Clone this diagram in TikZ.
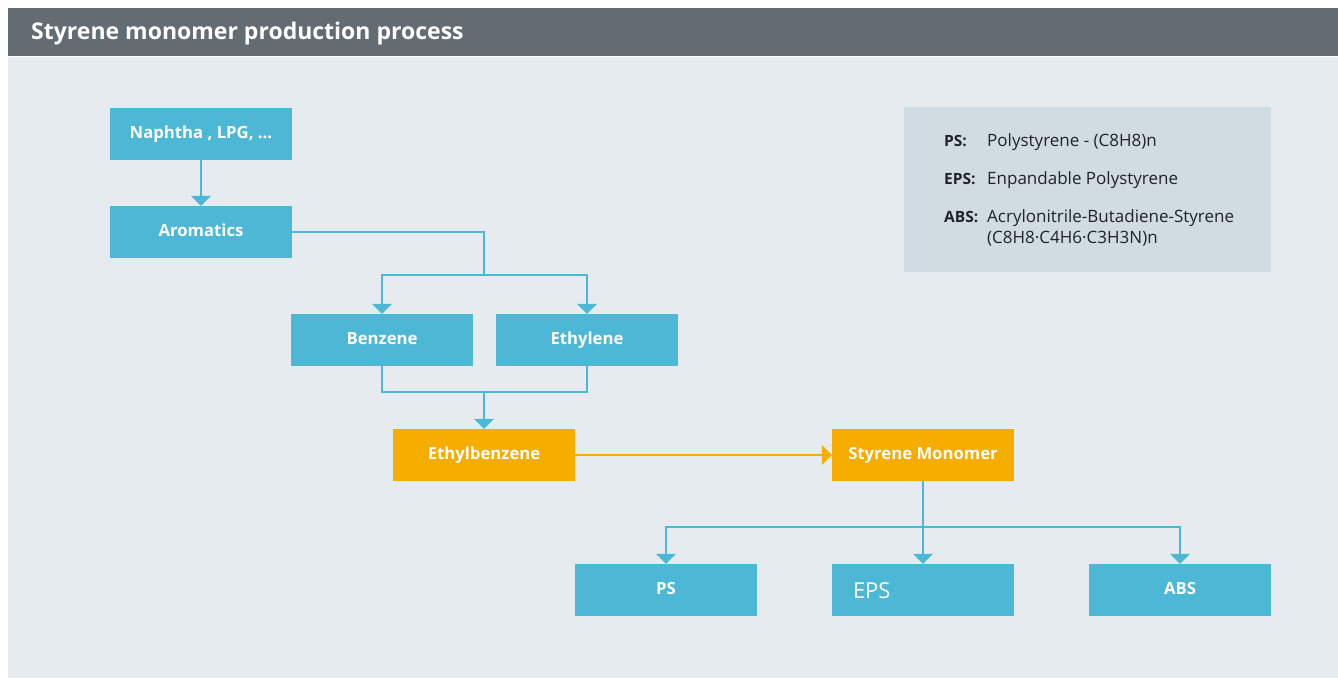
\documentclass[tikz,border=0pt]{standalone}
\usepackage{fontspec}
\setmainfont{Open Sans}
\usetikzlibrary{arrows.meta}
\definecolor{hdr}{HTML}{626C72}
\definecolor{bgc}{HTML}{E6EBEF}
\definecolor{boxblue}{HTML}{4DB8D5}
\definecolor{boxorange}{HTML}{F7AC00}
\definecolor{legc}{HTML}{D0DBE2}
\definecolor{legtext}{HTML}{1E2428}
\tikzset{
  box/.style={fill=boxblue, draw=none, minimum width=182pt, minimum height=52pt, inner sep=0pt, text height=12pt, text depth=4pt, text=white, font=\fontsize{16.7}{20}\selectfont\bfseries},
  obox/.style={box, fill=boxorange},
  conn/.style={draw=boxblue, line width=1.5pt},
  arr/.style={conn, -{Triangle[width=20pt,length=10pt]}},
  oarr/.style={draw=boxorange, line width=1.5pt, -{Triangle[width=20pt,length=10pt]}},
  legkey/.style={anchor=base west, inner sep=0pt, text=legtext, font=\fontsize{15.5}{18}\selectfont\bfseries},
  legval/.style={anchor=base west, inner sep=0pt, text=legtext, font=\fontsize{17}{20}\selectfont},
}
\begin{document}
\begin{tikzpicture}[x=1pt, y=-1pt]
\useasboundingbox (0,0) rectangle (1338,678);
\fill[white] (0,0) rectangle (1338,678);
\fill[hdr] (8,8) rectangle (1338,56);
\fill[bgc] (8,57) rectangle (1338,678);
\node[anchor=base west, inner sep=0pt, text=white, font=\fontsize{23}{27}\selectfont\bfseries] (title) at (31,39) {Styrene monomer production process};

% legend
\node[fill=legc, minimum width=367pt, minimum height=165pt, inner sep=0pt] (legend) at (1087.5,189.5) {};
\node[legkey] (k1) at (944,146) {PS:};
\node[legval] (v1) at (987,146) {Polystyrene - (C8H8)n};
\node[legkey] (k2) at (944,184) {EPS:};
\node[legval] (v2) at (987,184) {Enpandable Polystyrene};
\node[legkey] (k3) at (944,222) {ABS:};
\node[legval] (v3) at (987,222) {Acrylonitrile-Butadiene-Styrene};
\node[legval] (v4) at (987,243) {(C8H8·C4H6·C3H3N)n};

% nodes
\node[box] (naph) at (201,134) {Naphtha , LPG, ...};
\node[box] (arom) at (201,232) {Aromatics};
\node[box] (benz) at (382,340) {Benzene};
\node[box] (ethy) at (587,340) {Ethylene};
\node[obox] (ethb) at (484,455) {Ethylbenzene};
\node[obox] (sty) at (923,455) {Styrene Monomer};
\node[box] (ps) at (666,590) {PS};
\node[box, font=\fontsize{22}{26}\selectfont, text height=16pt, text depth=0pt, text width=140pt, align=left, inner xsep=21pt] (eps) at (923,590) {EPS};
\node[box] (abs) at (1180,590) {ABS};

\coordinate (j1) at (484,275);
\coordinate (j2) at (484,392);
\coordinate (j3) at (923,527);

% connectors
\draw[arr] (naph) -- (arom);
\draw[conn] (arom.east) -| (j1);
\draw[arr] (j1) -| (benz.north);
\draw[arr] (j1) -| (ethy.north);
\draw[conn] (benz.south) |- (j2) -| (ethy.south);
\draw[arr] (j2) -- (ethb.north);
\draw[oarr] (ethb.east) -- (sty.west);
\draw[conn] (sty.south) -- (j3);
\draw[arr] (j3) -| (ps.north);
\draw[arr] (j3) -- (eps.north);
\draw[arr] (j3) -| (abs.north);
\end{tikzpicture}
\end{document}
